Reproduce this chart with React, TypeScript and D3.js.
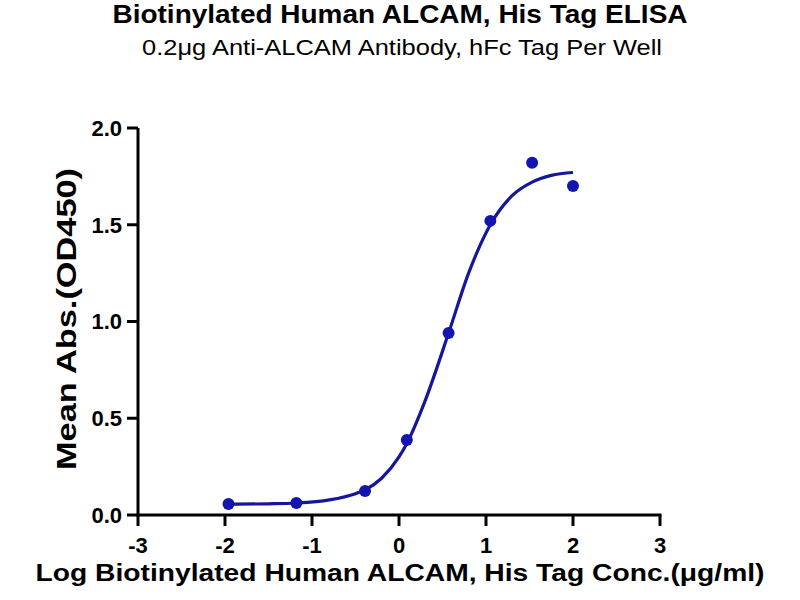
import React from 'react';
import { scaleLinear, line, curveMonotoneX } from 'd3';

// measured points (log conc, OD450)
const logConc = [-1.96, -1.18, -0.39, 0.09, 0.57, 1.05, 1.53, 2.0];
const meanAbs = [0.057, 0.062, 0.124, 0.388, 0.94, 1.52, 1.82, 1.70];

// fitted curve
const fitX = [-1.96, -1.5, -1.18, -0.8, -0.5, -0.39, -0.2, 0.0, 0.09, 0.3, 0.57, 0.8, 1.05, 1.3, 1.53, 1.75, 2.0];
const fitY = [0.056, 0.058, 0.062, 0.078, 0.11, 0.13, 0.19, 0.30, 0.37, 0.59, 0.94, 1.25, 1.50, 1.65, 1.72, 1.755, 1.77];

const xTicks = [-3, -2, -1, 0, 1, 2, 3];
const yTicks = [0, 0.5, 1.0, 1.5, 2.0];

const W = 800;
const H = 600;
const margin = { left: 138, right: 140, top: 128, bottom: 85 };

const App: React.FC = () => {
  const x = scaleLinear().domain([-3, 3]).range([margin.left, W - margin.right]);
  const y = scaleLinear().domain([0, 2]).range([H - margin.bottom, margin.top]);

  const fitPath = line<number>()
    .x((_, i) => x(fitX[i]))
    .y(d => y(d))
    .curve(curveMonotoneX)(fitY) || '';

  const font = 'Arial, "Liberation Sans", sans-serif';
  const axisColor = '#000';
  const x0 = x(-3);
  const y0 = y(0);

  return (
    <svg width={W} height={H} style={{ position: 'absolute', left: 0, top: 0, background: '#fff' }} fontFamily={font}>
      <text x={400} y={23} textAnchor="middle" fontSize={26} fontWeight="bold" textLength={575} lengthAdjust="spacingAndGlyphs">Biotinylated Human ALCAM, His Tag ELISA</text>
      <text x={402} y={55} textAnchor="middle" fontSize={22} textLength={520} lengthAdjust="spacingAndGlyphs">0.2μg Anti-ALCAM Antibody, hFc Tag Per Well</text>

      {/* y axis */}
      <line x1={x0} x2={x0} y1={y(2)} y2={y0 + 1.5} stroke={axisColor} strokeWidth={3} />
      {yTicks.map(t => (
        <g key={t}>
          <line x1={x0 - 11} x2={x0} y1={y(t)} y2={y(t)} stroke={axisColor} strokeWidth={3} />
          <text x={x0 - 16} y={y(t)} dy="0.36em" textAnchor="end" fontSize={22} fontWeight="bold">{t.toFixed(1)}</text>
        </g>
      ))}

      {/* x axis */}
      <line x1={x0 - 1.5} x2={x(3) + 1.5} y1={y0} y2={y0} stroke={axisColor} strokeWidth={3} />
      {xTicks.map(t => (
        <g key={t}>
          <line x1={x(t)} x2={x(t)} y1={y0} y2={y0 + 11} stroke={axisColor} strokeWidth={3} />
          <text x={x(t)} y={553} textAnchor="middle" fontSize={22} fontWeight="bold">{t}</text>
        </g>
      ))}

      <text transform={`translate(76, 319) rotate(-90)`} textAnchor="middle" fontSize={28} fontWeight="bold" textLength={302} lengthAdjust="spacingAndGlyphs">Mean Abs.(OD450)</text>
      <text x={400} y={581} textAnchor="middle" fontSize={24} fontWeight="bold" textLength={729} lengthAdjust="spacingAndGlyphs">Log Biotinylated Human ALCAM, His Tag Conc.(μg/ml)</text>

      <path d={fitPath} fill="none" stroke="#16169A" strokeWidth={3.2} />
      {logConc.map((c, i) => (
        <circle key={i} cx={x(c)} cy={y(meanAbs[i])} r={6} fill="#1414B0" />
      ))}
    </svg>
  );
};

export default App;
